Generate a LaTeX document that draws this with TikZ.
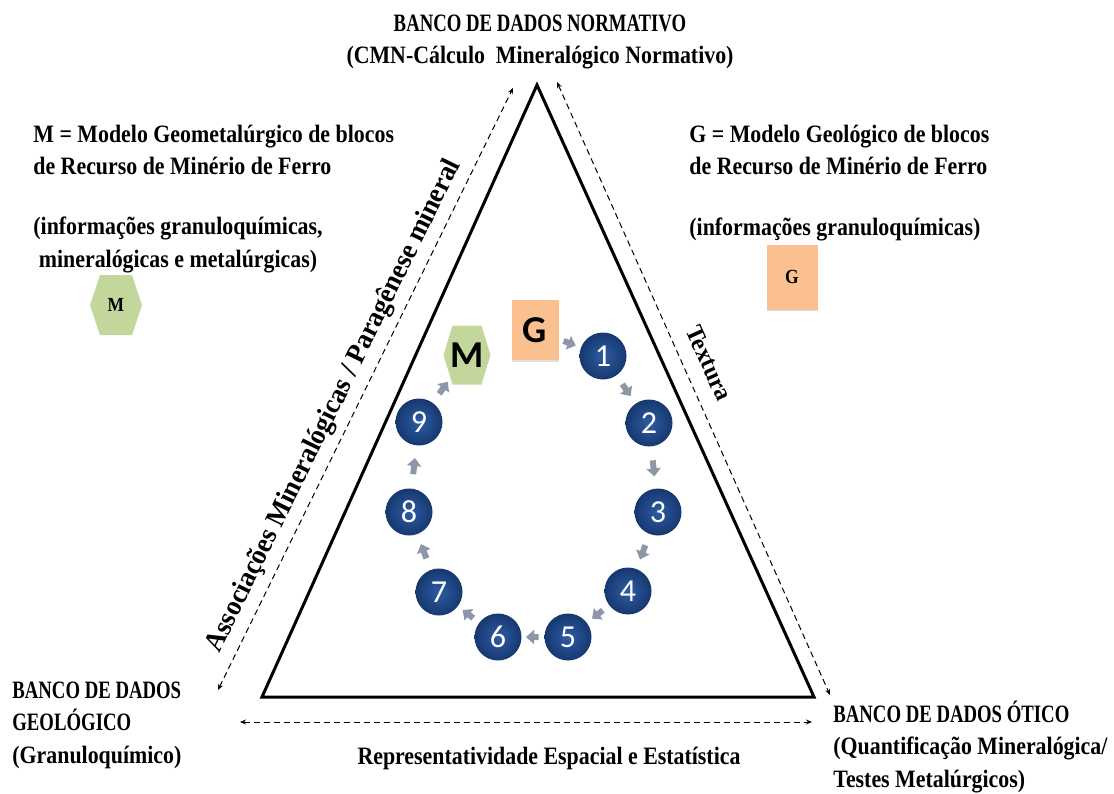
\documentclass[tikz,border=0pt]{standalone}
\usepackage{fontspec}
\setmainfont{Liberation Serif}[FakeStretch=0.875]
\newfontfamily\capsfont{Liberation Serif}[FakeStretch=0.75]
\newfontfamily\rotfont{Liberation Serif}[FakeStretch=0.95]
\newfontfamily\numfont{Carlito}
\usetikzlibrary{arrows.meta,shapes.geometric,calc,shadows}
\definecolor{navyin}{HTML}{2E5CA3}
\definecolor{navyout}{HTML}{163870}
\definecolor{hexgreen}{HTML}{C3D69B}
\definecolor{peach}{HTML}{FAC090}
\definecolor{arrowgray}{HTML}{8D97A8}
\begin{document}
\begin{tikzpicture}[x=0.5pt,y=-0.5pt,
  lbl/.style={font=\bfseries\fontsize{12.5}{16.2}\selectfont, inner sep=0pt},
  numnode/.style={circle, minimum size=23.5pt, inner sep=0pt, shading=radial,
    inner color=navyin, outer color=navyout, text=white,
    font=\numfont\fontsize{16}{16}\selectfont},
  hexnode/.style={inner sep=0pt, path picture={
    \fill[hexgreen] (path picture bounding box.west)
      -- ($(path picture bounding box.north west)+(#1,0)$)
      -- ($(path picture bounding box.north east)+(-#1,0)$)
      -- (path picture bounding box.east)
      -- ($(path picture bounding box.south east)+(-#1,0)$)
      -- ($(path picture bounding box.south west)+(#1,0)$) -- cycle;}},
  sqnode/.style={fill=peach, inner sep=0pt,
    drop shadow={opacity=0.25, shadow xshift=0.3pt, shadow yshift=-0.8pt}},
  garrow/.style={draw=arrowgray, line width=3pt, -{Triangle[width=7pt,length=4pt]}},
  darrow/.style={densely dashed, line width=0.5pt, {Stealth[length=3pt,width=2.5pt]}-{Stealth[length=3pt,width=2.5pt]}}
]
\useasboundingbox (0,0) rectangle (1114,793);

% triangle
\coordinate (apex) at (537,85);
\coordinate (tbl) at (262,697);
\coordinate (tbr) at (814,697);
\draw[line width=1.5pt, line join=miter] (apex) -- (tbl) -- (tbr) -- cycle;

% dashed arrows
\coordinate (lt) at (513,88);
\coordinate (lb) at (218,690);
\coordinate (rt) at (557,82);
\coordinate (rb) at (830,695);
\coordinate (bl) at (240,722);
\coordinate (br) at (812,722);
\draw[darrow] (lb) -- (lt);
\draw[darrow] (rt) -- (rb);
\draw[darrow] (bl) -- (br);

% labels
\node[lbl, align=center] (top) at (540,42) {{\capsfont BANCO DE DADOS NORMATIVO}\\(CMN-Cálculo\ \ Mineralógico Normativo)};
\node[lbl, align=left, anchor=west] (mdef) at (33,150) {M = Modelo Geometalúrgico de blocos\\de Recurso de Minério de Ferro};
\node[lbl, align=left, anchor=west] (minfo) at (33,245) {(informações granuloquímicas,\\\ mineralógicas e metalúrgicas)};
\node[lbl, align=left, anchor=west] (gdef) at (689,150) {G = Modelo Geológico de blocos\\de Recurso de Minério de Ferro};
\node[lbl, anchor=west] (ginfo) at (689,229) {(informações granuloquímicas)};
\node[lbl, align=left, anchor=west] (geo) at (12,725) {{\capsfont BANCO DE DADOS}\\{\capsfont GEOLÓGICO}\\(Granuloquímico)};
\node[lbl, align=left, anchor=west] (otico) at (833,747) {{\capsfont BANCO DE DADOS ÓTICO}\\(Quantificação Mineralógica/\\Testes Metalúrgicos)};
\node[lbl] (rep) at (549,758) {Representatividade Espacial e Estatística};
\node[lbl, font=\rotfont\bfseries\fontsize{14}{14}\selectfont, rotate=63.8] (assoc) at (334,406) {Associações Mineralógicas / Paragênese mineral};
\node[lbl, font=\rotfont\bfseries\fontsize{12.5}{12.5}\selectfont, rotate=-65.6] (text) at (709,363) {Textura};

% legend shapes
\node[hexnode=5pt, minimum width=26pt, minimum height=30pt, font=\bfseries\fontsize{10}{10}\selectfont] (mleg) at (116,305) {M};
\node[sqnode, minimum width=25.5pt, minimum height=32.5pt, font=\bfseries\fontsize{10}{10}\selectfont] (gleg) at (792,277) {G};

% cycle
\node[hexnode=4.5pt, minimum width=23.5pt, minimum height=29.5pt, font=\numfont\bfseries\fontsize{19}{19}\selectfont] (M) at (467,355) {M};
\node[sqnode, minimum width=23.5pt, minimum height=30pt, font=\numfont\bfseries\fontsize{19}{19}\selectfont] (G) at (535,330) {G};
\node[numnode] (n1) at (603,356) {1};
\node[numnode] (n2) at (649,423) {2};
\node[numnode] (n3) at (658,512) {3};
\node[numnode] (n4) at (628,591) {4};
\node[numnode] (n5) at (568,637) {5};
\node[numnode] (n6) at (498,637) {6};
\node[numnode] (n7) at (439,592) {7};
\node[numnode] (n8) at (409,512) {8};
\node[numnode] (n9) at (419,422) {9};

\foreach \a/\b in {G/n1, n1/n2, n2/n3, n3/n4, n4/n5, n5/n6, n6/n7, n7/n8, n8/n9, n9/M}
  \draw[garrow] ($(\a)!0.42!(\b)$) -- ($(\a)!0.6!(\b)$);
\end{tikzpicture}
\end{document}
